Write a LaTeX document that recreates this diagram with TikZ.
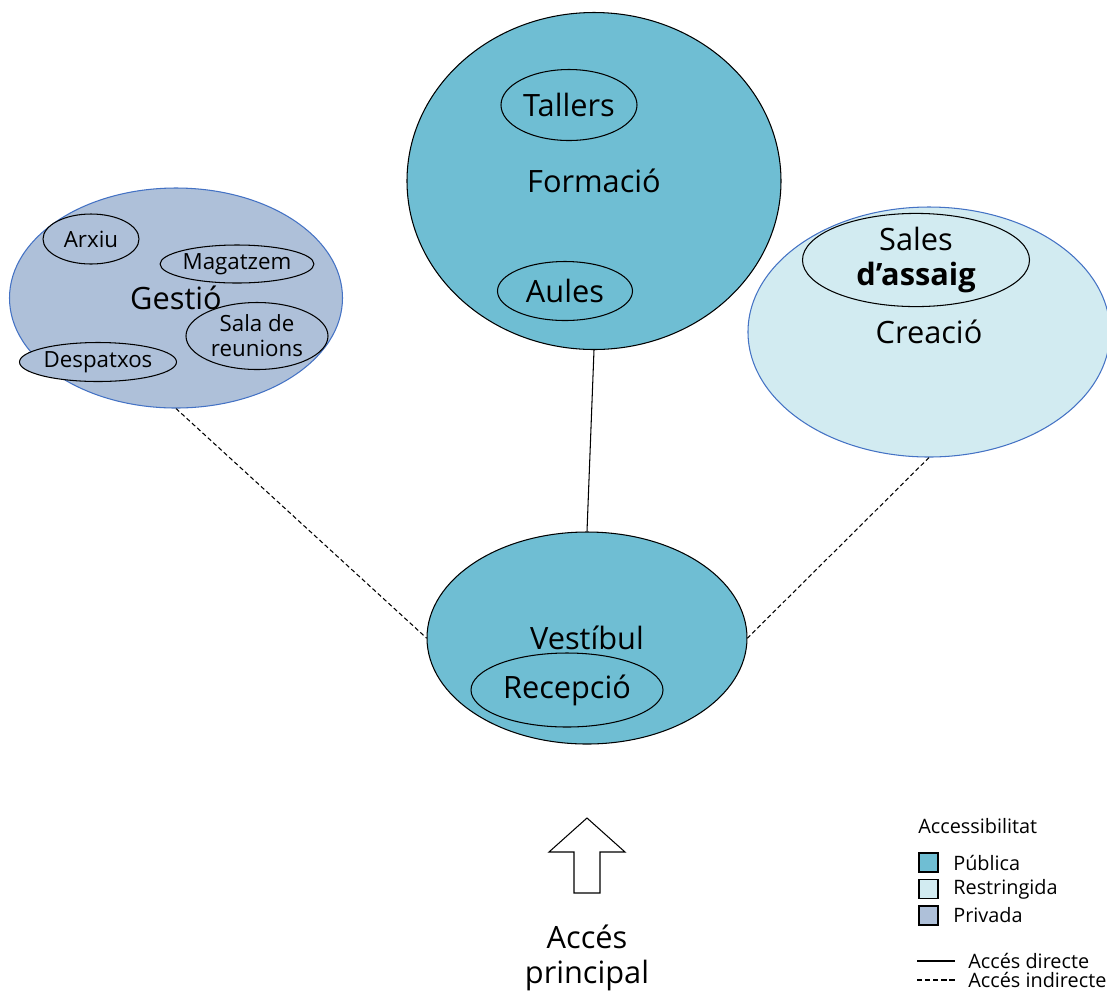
\documentclass[tikz,border=0pt]{standalone}
\usepackage{fontspec}
\setmainfont{Open Sans}
\usepackage{xcolor}
\usepackage{tikz}
\usetikzlibrary{shapes.geometric}
\definecolor{publica}{RGB}{111,190,211}
\definecolor{restringida}{RGB}{210,235,241}
\definecolor{privada}{RGB}{174,192,217}
\definecolor{vora}{RGB}{68,114,196}
\newcommand{\gran}{\fontsize{17.5}{20}\selectfont}
\newcommand{\mitja}{\fontsize{12.7}{14.2}\selectfont}
\newcommand{\petit}{\fontsize{11.3}{13}\selectfont}
\newcommand{\zona}[7]{%
  \node[zona,#2,minimum width={#5*0.02cm},minimum height={#6*0.02cm}] (#1) at (#3,#4) {#7};}
\newcommand{\ltext}[3]{\node[font=\petit,anchor=west,inner sep=0pt] (#1) at (#2) {#3};}
\tikzset{
  zona/.style={ellipse,draw,line width=0.6pt,inner sep=0pt,align=center},
  quadre/.style={draw,line width=0.6pt,minimum size=0.38cm,inner sep=0pt},
  directe/.style={line width=0.6pt},
  indirecte/.style={line width=0.6pt,dash pattern=on 2.5pt off 1.6pt}}

\begin{document}
\begin{tikzpicture}[x=0.02cm,y=-0.02cm]
  \useasboundingbox (0,0) rectangle (1107,992);
  % zones
  \zona{formacio}{fill=publica,font=\gran}{594}{181}{374}{337}{Formació}
  \zona{tallers}{fill=publica,font=\gran}{569}{105}{136}{71}{Tallers}
  \zona{aules}{fill=publica,font=\gran}{565}{291}{135}{59}{Aules}
  \zona{gestio}{fill=privada,draw=vora,font=\gran}{176}{298}{333}{220}{Gestió}
  \zona{arxiu}{fill=privada,font=\mitja}{91}{239}{96}{50}{Arxiu}
  \zona{magatzem}{fill=privada,font=\mitja}{237}{264}{150}{38}{Magatzem}
  \zona{reunions}{fill=privada,font=\mitja}{257}{336}{142}{67}{Sala de\\reunions}
  \zona{despatxos}{fill=privada,font=\mitja}{98}{362}{157}{39}{Despatxos}
  \zona{creacio}{fill=restringida,draw=vora,font=\gran}{929}{332}{362}{250}{Creació}
  \zona{assaig}{fill=restringida,font=\gran}{916}{260}{227}{72}{Sales\\\textbf{d’assaig}}
  \zona{vestibul}{fill=publica,font=\gran}{587}{638}{320}{212}{Vestíbul}
  \zona{recepcio}{fill=publica,font=\gran}{567}{690}{192}{74}{Recepció}
  % accessos
  \draw[directe] (formacio.south) -- (vestibul.north);
  \draw[indirecte] (gestio.south) -- (vestibul.west);
  \draw[indirecte] (creacio.south) -- (vestibul.east);
  % entrada
  \draw[line width=0.6pt] (587,818) -- (625,852) -- (600,852) -- (600,893)
    -- (574,893) -- (574,852) -- (549,852) -- cycle;
  \node[font=\gran,align=center] (principal) at (587,958) {Accés\\principal};
  % llegenda
  \ltext{titol}{918,826}{Accessibilitat}
  \foreach \c/\t [count=\i] in {publica/Pública,restringida/Restringida,privada/Privada}{
    \node[quadre,fill=\c] (q\i) at (928.5,{836+26.5*\i}) {};
    \ltext{t\i}{953,{836+26.5*\i}}{\t}}
  \coordinate (d1) at (917,961); \coordinate (d2) at (955,961);
  \coordinate (i1) at (917,980); \coordinate (i2) at (955,980);
  \draw[directe] (d1) -- (d2);
  \draw[line width=0.6pt,dash pattern=on 3pt off 1.6pt] (i1) -- (i2);
  \ltext{tdir}{968,961}{Accés directe}
  \ltext{tind}{968,980}{Accés indirecte}
\end{tikzpicture}
\end{document}
